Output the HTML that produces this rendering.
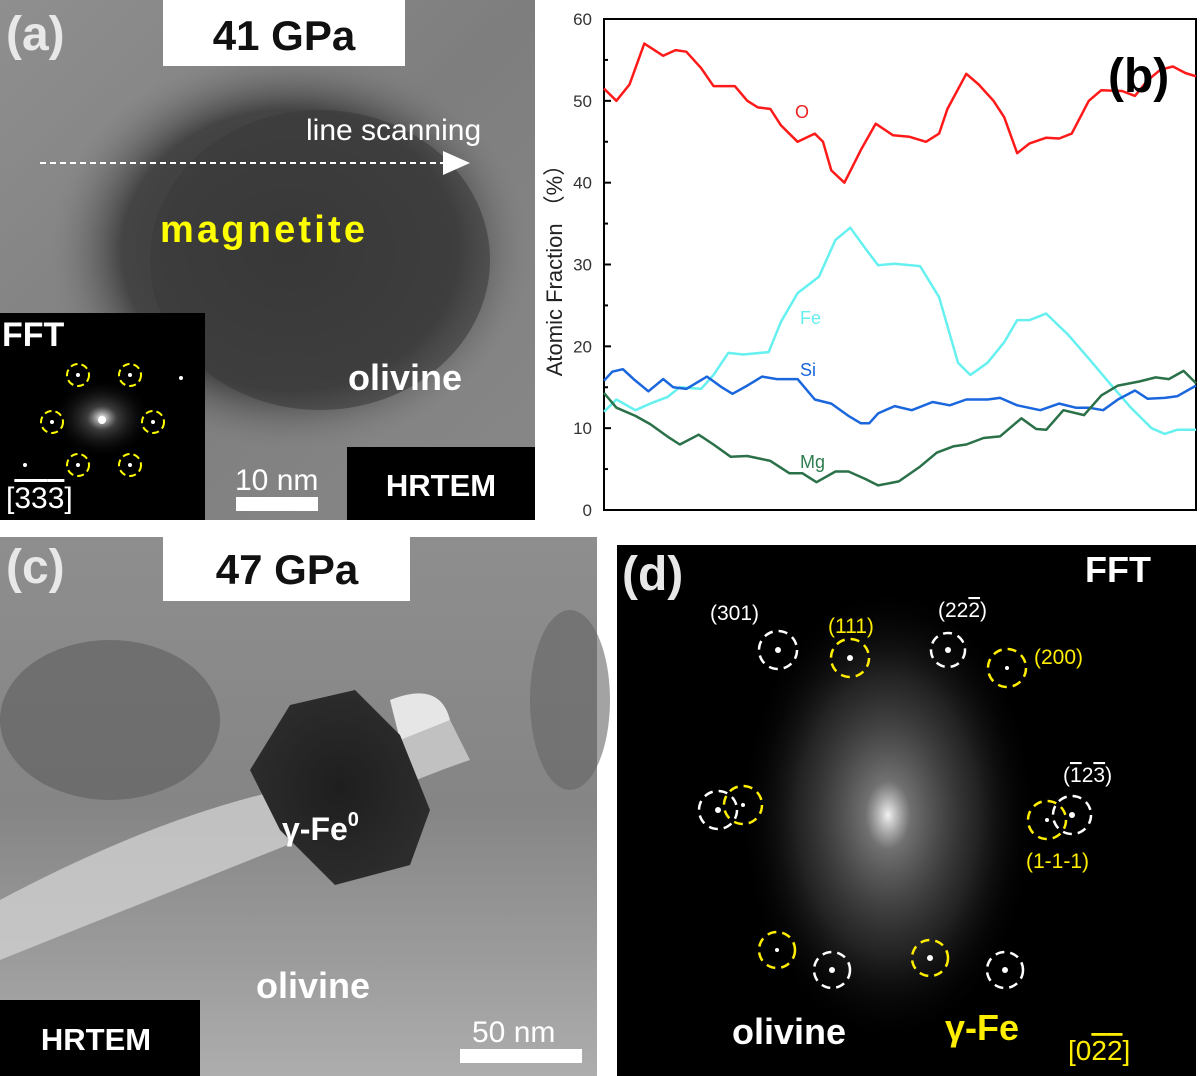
<!DOCTYPE html>
<html><head><meta charset="utf-8">
<style>
html,body{margin:0;padding:0;background:#fff;}
svg{display:block;font-family:"Liberation Sans",Arial,sans-serif;}
</style></head>
<body>
<svg id="fig" width="1200" height="1076" viewBox="0 0 1200 1076" xmlns="http://www.w3.org/2000/svg">
<defs>
  <radialGradient id="blobA" cx="0.5" cy="0.5" r="0.5">
    <stop offset="0" stop-color="#353535"/><stop offset="0.7" stop-color="#444"/><stop offset="1" stop-color="#7a7a7a" stop-opacity="0"/>
  </radialGradient>
  <linearGradient id="bgA" x1="0" y1="0" x2="1" y2="1">
    <stop offset="0" stop-color="#8f8f8f"/><stop offset="0.5" stop-color="#7e7e7e"/><stop offset="1" stop-color="#888"/>
  </linearGradient>
  <radialGradient id="cloud" cx="0.5" cy="0.5" r="0.5">
    <stop offset="0" stop-color="#fff" stop-opacity="0.95"/><stop offset="0.15" stop-color="#bbb" stop-opacity="0.6"/><stop offset="0.6" stop-color="#666" stop-opacity="0.35"/><stop offset="1" stop-color="#000" stop-opacity="0"/>
  </radialGradient>
  <radialGradient id="fftSmall" cx="0.5" cy="0.5" r="0.5">
    <stop offset="0" stop-color="#fff"/><stop offset="0.3" stop-color="#777" stop-opacity="0.5"/><stop offset="1" stop-color="#000" stop-opacity="0"/>
  </radialGradient>
  <radialGradient id="particle" cx="0.5" cy="0.5" r="0.5">
    <stop offset="0" stop-color="#1e1e1e"/><stop offset="1" stop-color="#2c2c2c"/>
  </radialGradient>
  <linearGradient id="bgC" x1="0" y1="0" x2="0" y2="1">
    <stop offset="0" stop-color="#8e8e8e"/><stop offset="0.5" stop-color="#858585"/><stop offset="1" stop-color="#adadad"/>
  </linearGradient>
</defs>

<!-- Panel (a) -->
<g>
  <rect x="0" y="0" width="535" height="520" fill="url(#bgA)"/>
  <ellipse cx="290" cy="250" rx="240" ry="200" fill="url(#blobA)"/>
  <ellipse cx="320" cy="260" rx="170" ry="150" fill="#3a3a3a" opacity="0.6"/>
  <rect x="163" y="0" width="242" height="66" fill="#fff"/>
  <text x="284" y="50" font-size="42" font-weight="bold" text-anchor="middle" fill="#111">41 GPa</text>
  <text x="6" y="50" font-size="48" font-weight="bold" fill="#e8e8e8">(a)</text>
  <text x="306" y="140" font-size="30" fill="#fff">line scanning</text>
  <line x1="40" y1="163" x2="445" y2="163" stroke="#fff" stroke-width="2" stroke-dasharray="6,4"/>
  <polygon points="443,151 470,163 443,175" fill="#fff"/>
  <text x="160" y="242" font-size="38" font-weight="bold" fill="#ffff00" textLength="205">magnetite</text>
  <text x="348" y="390" font-size="36" font-weight="bold" fill="#fff">olivine</text>
  <rect x="0" y="313" width="205" height="207" fill="#000"/>
  <ellipse cx="102" cy="418" rx="50" ry="40" fill="url(#fftSmall)"/>
  <text x="2" y="346" font-size="34" font-weight="bold" fill="#fff">FFT</text>
  <g fill="none" stroke="#ffff00" stroke-width="2" stroke-dasharray="7,4">
    <circle cx="78" cy="375" r="11"/><circle cx="130" cy="375" r="11"/>
    <circle cx="52" cy="422" r="11"/><circle cx="153" cy="422" r="11"/>
    <circle cx="78" cy="465" r="11"/><circle cx="130" cy="465" r="11"/>
  </g>
  <g fill="#fff"><circle cx="78" cy="375" r="2"/><circle cx="130" cy="375" r="2"/><circle cx="52" cy="422" r="2"/><circle cx="153" cy="422" r="2"/><circle cx="78" cy="465" r="2"/><circle cx="130" cy="465" r="2"/><circle cx="181" cy="378" r="2"/><circle cx="25" cy="465" r="2"/><circle cx="102" cy="420" r="4"/></g>
  <text x="6" y="508" font-size="30" fill="#fff">[<tspan text-decoration="overline">3</tspan><tspan text-decoration="overline">3</tspan><tspan text-decoration="overline">3</tspan>]</text>
  <text x="235" y="490" font-size="30" fill="#fff">10 nm</text>
  <rect x="236" y="497" width="82" height="14" fill="#fff"/>
  <rect x="347" y="447" width="188" height="73" fill="#000"/>
  <text x="441" y="496" font-size="31" font-weight="bold" text-anchor="middle" fill="#fff">HRTEM</text>
</g>

<!-- Panel (b) chart -->
<g id="chart">
  <rect x="604" y="19" width="592" height="491" fill="#fff" stroke="#000" stroke-width="2"/>
  <g id="yticks"></g>
  <g id="lines"></g>
  <text transform="translate(562,265) rotate(-90)" font-size="22" text-anchor="middle" fill="#222">Atomic Fraction （%）</text>
  <text x="1108" y="92" font-size="48" font-weight="bold" fill="#000">(b)</text>
  <text x="795" y="118" font-size="18" fill="#ee2222">O</text>
  <text x="800" y="324" font-size="18" fill="#66eeee">Fe</text>
  <text x="800" y="376" font-size="18" fill="#1a66dd">Si</text>
  <text x="800" y="468" font-size="18" fill="#2e7d4e">Mg</text>
</g>

<!-- Panel (c) -->
<g>
  <rect x="0" y="537" width="597" height="539" fill="url(#bgC)"/>
  <ellipse cx="110" cy="720" rx="110" ry="80" fill="#5e5e5e" opacity="0.6"/>
  <ellipse cx="570" cy="700" rx="40" ry="90" fill="#666" opacity="0.6"/>
  <path d="M0,900 Q150,820 280,790 Q380,740 450,720 L470,760 Q380,790 300,840 Q150,900 0,960 Z" fill="#d0d0d0" opacity="0.8"/>
  <path d="M390,700 Q440,680 450,720 L400,740 Z" fill="#e6e6e6"/>
  <path d="M250,770 L290,705 L355,690 L400,735 L430,810 L410,865 L335,885 L280,830 Z" fill="url(#particle)"/>
  <rect x="163" y="537" width="247" height="64" fill="#fff"/>
  <text x="287" y="584" font-size="42" font-weight="bold" text-anchor="middle" fill="#111">47 GPa</text>
  <text x="6" y="583" font-size="48" font-weight="bold" fill="#e8e8e8">(c)</text>
  <text x="282" y="840" font-size="32" font-weight="bold" fill="#fff">γ-Fe<tspan font-size="20" dy="-14">0</tspan></text>
  <text x="256" y="998" font-size="36" font-weight="bold" fill="#fff">olivine</text>
  <rect x="0" y="1000" width="200" height="76" fill="#000"/>
  <text x="96" y="1050" font-size="31" font-weight="bold" text-anchor="middle" fill="#fff">HRTEM</text>
  <text x="472" y="1042" font-size="30" fill="#fff">50 nm</text>
  <rect x="460" y="1049" width="122" height="14" fill="#fff"/>
</g>

<!-- Panel (d) -->
<g>
  <rect x="617" y="545" width="579" height="531" fill="#000"/>
  <ellipse cx="888" cy="815" rx="150" ry="230" fill="url(#cloud)"/>
  <text x="622" y="590" font-size="48" font-weight="bold" fill="#e8e8e8">(d)</text>
  <text x="1085" y="582" font-size="36" font-weight="bold" fill="#fff">FFT</text>
  <g fill="none" stroke="#fff" stroke-width="2.5" stroke-dasharray="9,6">
    <circle cx="778" cy="650" r="19"/><circle cx="948" cy="650" r="17"/><circle cx="718" cy="810" r="19"/><circle cx="1072" cy="815" r="19"/><circle cx="832" cy="970" r="18"/><circle cx="1005" cy="970" r="18"/>
  </g>
  <g fill="none" stroke="#ffee00" stroke-width="2.5" stroke-dasharray="9,6">
    <circle cx="850" cy="658" r="19"/><circle cx="1007" cy="668" r="19"/><circle cx="743" cy="805" r="19"/><circle cx="1047" cy="820" r="19"/><circle cx="777" cy="950" r="18"/><circle cx="930" cy="958" r="18"/>
  </g>
  <g fill="#fff"><circle cx="778" cy="650" r="3"/><circle cx="948" cy="650" r="3"/><circle cx="718" cy="810" r="3"/><circle cx="1072" cy="815" r="3"/><circle cx="832" cy="970" r="3"/><circle cx="1005" cy="970" r="3"/><circle cx="850" cy="658" r="3"/><circle cx="1007" cy="668" r="2"/><circle cx="743" cy="805" r="2"/><circle cx="1047" cy="820" r="2"/><circle cx="777" cy="950" r="2"/><circle cx="930" cy="958" r="3"/></g>
  <g font-size="21">
    <text x="710" y="620" fill="#fff">(301)</text>
    <text x="828" y="633" fill="#ffee00">(111)</text>
    <text x="938" y="617" fill="#fff">(22<tspan text-decoration="overline">2</tspan>)</text>
    <text x="1034" y="664" fill="#ffee00">(200)</text>
    <text x="1063" y="782" fill="#fff">(<tspan text-decoration="overline">1</tspan>2<tspan text-decoration="overline">3</tspan>)</text>
    <text x="1026" y="868" fill="#ffee00">(1-1-1)</text>
  </g>
  <text x="732" y="1044" font-size="36" font-weight="bold" fill="#fff">olivine</text>
  <text x="945" y="1040" font-size="36" font-weight="bold" fill="#ffee00">γ-Fe</text>
  <text x="1068" y="1060" font-size="28" fill="#ffee00">[0<tspan text-decoration="overline">2</tspan><tspan text-decoration="overline">2</tspan>]</text>
</g>
</svg>
<script>
const yTickValues = [0, 10, 20, 30, 40, 50, 60];
const oX  = [0,2.1,4.3,6.8,10,12.1,13.9,16.4,18.5,22.1,24.2,26,28.1,29.9,32.7,35.6,37,38.4,40.6,43.4,45.9,48.8,51.6,54.4,56.6,58,61.2,63.3,65.8,67.6,69.8,71.9,74.7,76.9,79,81.9,84,87.5,89.7,91.8,94,96.1,98.2,100];
const oY  = [51.5,50,52,57,55.5,56.2,56,54,51.8,51.8,50,49.2,49,47,45,46,45,41.5,40,44,47.2,45.8,45.6,45,46,49,53.3,52,50,48,43.6,44.8,45.5,45.4,46,50,51.3,51.2,50.6,52.5,53.8,54.2,53.4,53];
const feX = [0,2.1,5.3,7.8,10.7,12.8,16.4,18.5,21,23.5,27.8,29.9,32.7,36.3,39.1,41.6,44.1,46.3,49.1,53.4,56.6,59.8,61.9,64.8,67.6,69.8,71.9,74.7,78.3,81.9,85.4,89,92.5,94.7,96.8,100];
const feY = [12,13.5,12.2,13,13.8,15,14.8,16.5,19.2,19,19.3,23,26.5,28.5,33,34.5,32,29.9,30.1,29.8,26,18,16.5,18,20.5,23.2,23.2,24,21.5,18.5,15.5,12.5,10,9.3,9.8,9.8];
const siX = [0,1.4,3.2,5,7.5,10,11.7,13.9,17.4,19.9,21.7,24.2,26.7,29.2,32.7,35.6,38.4,41.3,43.4,44.8,46.3,49.1,52,55.5,58.4,61.2,64.8,66.9,69.8,73.7,76.9,79.7,81.9,84.3,86.8,89.7,91.8,94.7,96.8,100];
const siY = [15.8,16.9,17.2,16,14.5,16,15,14.8,16.3,15,14.2,15.2,16.3,16,16,13.5,13,11.5,10.6,10.6,11.8,12.7,12.2,13.2,12.8,13.5,13.5,13.7,12.8,12.2,13,12.5,12.5,12.2,13.5,14.6,13.6,13.7,13.9,15.2];
const mgX = [0,2.1,5.3,7.8,10.7,12.8,16,18.5,21.4,24.2,28.1,31.3,33.5,35.9,39.1,41.3,44.1,46.3,49.8,53.4,56.2,59.1,61.2,64.1,66.9,70.5,73,74.7,77.6,81.1,84,86.8,90.4,93.2,95.4,97.9,100];
const mgY = [14.3,12.5,11.5,10.5,9,8,9.2,8,6.5,6.6,6,4.5,4.5,3.4,4.7,4.7,3.8,3,3.5,5.3,7,7.8,8,8.8,9,11.2,9.9,9.8,12.2,11.6,14,15.2,15.7,16.2,16,17,15.5];

const NS = 'http://www.w3.org/2000/svg';
const X0 = 604, X1 = 1196, Y0 = 510, Y1 = 19;
function xs(v){ return X0 + (v/100)*(X1-X0); }
function ys(v){ return Y0 - (v/60)*(Y0-Y1); }

const tg = document.getElementById('yticks');
yTickValues.forEach(v => {
  const l = document.createElementNS(NS,'line');
  l.setAttribute('x1', X0); l.setAttribute('x2', X0+7);
  l.setAttribute('y1', ys(v)); l.setAttribute('y2', ys(v));
  l.setAttribute('stroke','#000'); l.setAttribute('stroke-width','2');
  
  
  tg.appendChild(l);
  const t = document.createElementNS(NS,'text');
  t.setAttribute('x', X0-12); t.setAttribute('y', ys(v)+6);
  t.setAttribute('text-anchor','end'); t.setAttribute('font-size','17'); t.setAttribute('fill','#333');
  t.textContent = v;
  
  
  tg.appendChild(t);
});
for (let i=0;i<6;i++){
  const v = 5 + i*10;
  const l = document.createElementNS(NS,'line');
  l.setAttribute('x1', X0); l.setAttribute('x2', X0+4);
  l.setAttribute('y1', ys(v)); l.setAttribute('y2', ys(v));
  l.setAttribute('stroke','#000'); l.setAttribute('stroke-width','2');
  
  
  tg.appendChild(l);
}
const lg = document.getElementById('lines');
function drawLine(xa, ya, color, name){
  const p = document.createElementNS(NS,'path');
  p.setAttribute('d', xa.map((x,i)=>(i?'L':'M')+xs(x).toFixed(1)+','+ys(ya[i]).toFixed(1)).join(''));
  p.setAttribute('fill','none'); p.setAttribute('stroke',color); p.setAttribute('stroke-width','2.5');
  p.setAttribute('stroke-linejoin','round');
  
  
  lg.appendChild(p);
}
drawLine(oX, oY, '#ff1a1a', 'series-o');
drawLine(feX, feY, '#66f0f0', 'series-fe');
drawLine(siX, siY, '#1a66dd', 'series-si');
drawLine(mgX, mgY, '#2a7048', 'series-mg');
</script>
</body></html>
